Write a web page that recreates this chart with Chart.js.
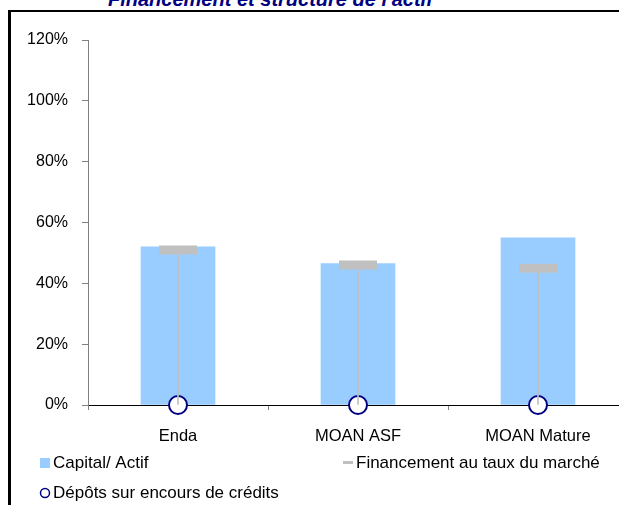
<!DOCTYPE html>
<html>
<head>
<meta charset="utf-8">
<script src="https://cdn.jsdelivr.net/npm/chart.js@4.4.1/dist/chart.umd.min.js"></script>
<style>
  html, body { margin: 0; padding: 0; background: #fff; overflow: hidden; }
  #wrap { position: relative; width: 619px; height: 505px; overflow: hidden; }
  #frame { position: absolute; left: 8px; top: 10px; width: 700px; height: 600px;
           border: 2px solid #000; border-left-width: 3px; }
  #title { position: absolute; left: 108px; top: -12px; line-height: 20px; white-space: nowrap;
           font: italic bold 20px "Liberation Sans", Arial, sans-serif; color: #000080; }
  #chart { position: absolute; left: 0; top: 0; }
</style>
</head>
<body>
<div id="wrap">
  <div id="frame"></div>
  <div id="title">Financement et structure de l'actif</div>
  <canvas id="chart" width="656" height="505"></canvas>
</div>
<script>
// values (percent)
const categories = ['Enda', 'MOAN ASF', 'MOAN Mature'];
const capitalActif = [52, 46.5, 55];
const financementMarche = [51, 46, 45];
const depotsEncours = [0, 0, 0];
const yTicks = [0, 20, 40, 60, 80, 100, 120];

const FONT = '"Liberation Sans", Arial, sans-serif';
const BLUE = '#99CCFF';
const GREY = '#C0C0C0';
const NAVY = '#000080';

// legend is laid out by hand: two items on the first row, one below
const placedLegend = {
    id: 'placedLegend',
    afterDraw(chart) {
        const ctx = chart.ctx;
        const spots = [
            { label: 'Capital/ Actif', x: 40, y: 463, kind: 'box' },
            { label: 'Financement au taux du marché', x: 343, y: 463, kind: 'dash' },
            { label: 'Dépôts sur encours de crédits', x: 40, y: 493, kind: 'ring' }
        ];
        ctx.save();
        ctx.font = '17px ' + FONT;
        ctx.textBaseline = 'middle';
        spots.forEach(s => {
            if (s.kind === 'box') {
                ctx.fillStyle = BLUE;
                ctx.fillRect(s.x, s.y - 5, 10, 10);
            } else if (s.kind === 'dash') {
                ctx.fillStyle = GREY;
                ctx.fillRect(s.x, s.y - 2, 10, 3);
            } else {
                ctx.strokeStyle = NAVY;
                ctx.lineWidth = 1.5;
                ctx.beginPath();
                ctx.arc(s.x + 5, s.y, 4.5, 0, Math.PI * 2);
                ctx.stroke();
            }
            ctx.fillStyle = '#000';
            ctx.fillText(s.label, s.x + 13, s.y);
        });
        ctx.restore();
    }
};

const ctx = document.getElementById('chart').getContext('2d');
new Chart(ctx, {
    type: 'bar',
    data: {
        labels: categories,
        datasets: [
            {
                type: 'line',
                label: 'Financement au taux du marché',
                data: financementMarche,
                showLine: false,
                pointStyle: 'line',
                pointRadius: 19,
                pointBorderWidth: 9,
                pointBorderColor: GREY,
                order: 0
            },
            {
                type: 'bar',
                label: 'drop',
                data: categories.map((c, i) => [depotsEncours[i], financementMarche[i]]),
                backgroundColor: GREY,
                barThickness: 1,
                grouped: false,
                order: 1
            },
            {
                type: 'line',
                label: 'Dépôts sur encours de crédits',
                data: depotsEncours,
                showLine: false,
                pointStyle: 'circle',
                pointRadius: 9,
                pointBorderWidth: 2,
                pointBorderColor: NAVY,
                pointBackgroundColor: '#fff',
                clip: false,
                order: 2
            },
            {
                type: 'bar',
                label: 'Capital/ Actif',
                data: capitalActif,
                backgroundColor: BLUE,
                barThickness: 74,
                grouped: false,
                order: 3
            }
        ]
    },
    options: {
        responsive: false,
        animation: false,
        events: [],
        layout: { padding: { top: 40, right: 5, left: 0, bottom: 0 } },
        plugins: {
            legend: { display: false },
            tooltip: { enabled: false }
        },
        scales: {
            x: {
                grid: { drawOnChartArea: false, tickLength: 5, color: '#808080', offset: true },
                border: { color: '#000', width: 1 },
                ticks: { color: '#000', font: { family: FONT, size: 16.5 }, padding: 17, maxRotation: 0 },
                afterFit(scale) { scale.height = 100; }
            },
            y: {
                min: 0,
                max: 120,
                afterBuildTicks(scale) { scale.ticks = yTicks.map(v => ({ value: v })); },
                grid: { drawOnChartArea: false, tickLength: 6, color: '#808080' },
                border: { color: '#808080', width: 1 },
                ticks: { color: '#000', font: { family: FONT, size: 16 }, padding: 14,
                         callback: v => v + '%' },
                afterFit(scale) { scale.width = 88; }
            }
        }
    },
    plugins: [placedLegend]
});
</script>
</body>
</html>
